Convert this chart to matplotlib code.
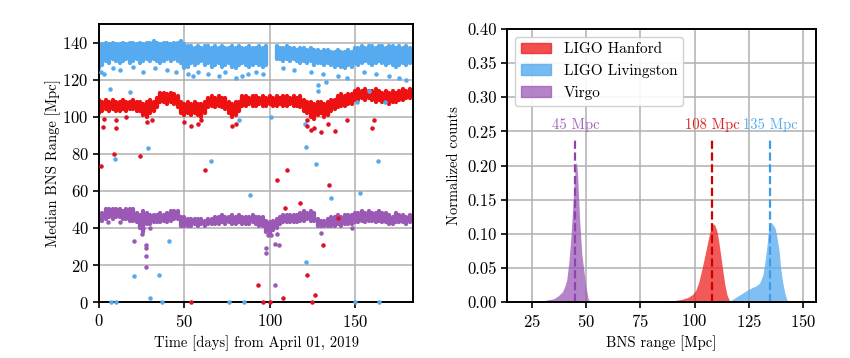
import numpy as np
import matplotlib
matplotlib.use("Agg")
import matplotlib.pyplot as plt
from matplotlib.patches import Patch

plt.rcParams['font.family'] = ['cmr10', 'DejaVu Serif']
plt.rcParams['axes.formatter.use_mathtext'] = True
plt.rcParams['axes.unicode_minus'] = False

# ---- left panel: band of median ranges, 2-day resolution ----
days = np.arange(0, 184, 2)
nan = np.nan

llo_top = [138, 139, 140, 139, 140, 139, 139, 140, 139, 140, 140, 139, 140, 139, 140, 140, 141, 140, 139, 140, 140, 139, 140, 140, 141,
           139, 138, 138, 137, 138, 137, 138, 138, 137, 138, 137, 138, 137, 137, 138, 137, 138, 137, 137, 138, 137, 137, 138, 137, 138,
           nan, nan,
           138, 137, 137, 138, 137, 137, 136, 137, 137, 136, 137, 136, 136, 135, 136, 136, 135, 135, 136, 135, 135, 136, 135,
           137, 137, 138, 137, 138, 138, 137, 138, 138, 137, 138, 138, 137, 138, 137, 138, 137]
llo_bot = [126, 128, 130, 129, 131, 130, 129, 130, 131, 129, 130, 131, 129, 130, 131, 130, 131, 130, 129, 130, 131, 130, 131, 130, 129,
           126, 127, 129, 128, 129, 130, 128, 129, 127, 128, 129, 127, 128, 129, 127, 126, 128, 129, 128, 127, 128, 129, 128, 127, 128,
           nan, nan,
           131, 131, 130, 131, 130, 131, 130, 129, 130, 129, 130, 128, 129, 129, 128, 129, 128, 127, 128, 127, 126, 128, 127,
           129, 128, 129, 130, 129, 128, 129, 130, 129, 128, 129, 128, 127, 128, 129, 128, 129]

lho_top = [109, 108, 109, 108, 109, 108, 108, 109, 108, 108, 109, 108, 108, 107, 108, 109, 108, 110,
           113, 113, 112, 113, 112, 111,
           108, 107, 108, 107, 108, 107, 107, 108,
           110, 111, 110, 111, 110, 110,
           108, 107, 108, 108,
           111, 111, 110, 111, 111, 110, 111, 110, 111, 110, 111, 110, 111, 111, 110, 111, 110, 111,
           109, 108, 108, 107, 108, 108, 107, 108, 109, 109,
           111, 112, 111, 112, 112,
           114, 115, 114, 115, 114, 114, 115, 114, 113, 114, 113, 114, 113, 114, 115, 114, 115]
lho_bot = [102, 103, 104, 103, 104, 103, 103, 104, 103, 104, 104, 103, 103, 101, 100, 102, 103, 105,
           108, 108, 107, 108, 107, 105,
           102, 101, 102, 101, 102, 101, 100, 102,
           105, 106, 105, 106, 105, 104,
           102, 100, 101, 103,
           106, 106, 107, 106, 106, 107, 106, 106, 107, 106, 106, 107, 106, 106, 107, 106, 106, 105,
           103, 102, 100, 99, 101, 102, 100, 101, 103, 104,
           105, 106, 106, 107, 107,
           109, 109, 110, 109, 110, 109, 108, 109, 108, 108, 107, 108, 108, 109, 109, 110, 110]

vir_top = [47, 48,
           50, 50, 50, 50, 50, 49, 50, 50, 50,
           48, 47, 49, 48,
           47, 47, 47, 48, 47, 48, 49, 49, 49,
           46, 46, 45, 45, 45, 45, 45, 44, 45, 45,
           46, 46, 47, 46, 46, 47, 46, 47, 46, 46, 46, 47, 46, 46, 46,
           44, 43, 44, 45,
           46, 47, 47, 47, 47, 47,
           48, 49, 48, 49, 48,
           45, 44, 44, 45,
           46, 46, 47, 46, 47, 47, 47,
           48, 48, 49, 48, 49, 48, 48, 49, 48, 48,
           47, 46, 48, 47, 47, 46, 47]
vir_bot = [44, 44,
           45, 46, 45, 46, 46, 45, 45, 44, 44,
           43, 40, 38, 42,
           42, 43, 43, 43, 44, 43, 44, 45, 45,
           41, 41, 41, 41, 42, 41, 42, 41, 42, 42,
           42, 42, 43, 42, 43, 42, 42, 43, 42, 42, 42, 43, 42, 41, 41,
           38, 37, 39, 40,
           42, 43, 43, 43, 43, 43,
           44, 44, 45, 44, 44,
           41, 41, 41, 41,
           41, 41, 42, 41, 42, 42, 42,
           43, 43, 44, 43, 44, 44, 43, 44, 43, 43,
           42, 42, 43, 43, 43, 42, 43]

# scattered points off the main band
llo_x = [1, 3, 8, 12, 20, 26, 33, 40, 45, 52, 55, 58, 64, 70, 74, 80, 84, 87, 92, 96, 108, 114, 124, 131, 140, 145, 155, 162, 170, 176, 180,
         6.3, 18, 28.7, 9.2, 65.8, 82, 101, 121, 128.5, 128.5, 133, 151, 158.2, 167.5, 120.7, 163.5, 127.3, 20.5, 35, 29.7, 41,
         88.3, 121.5, 135.7, 152.7, 7, 10, 37, 76, 85, 150, 164]
llo_y = [124, 123, 126, 125, 127, 124, 126, 125, 124, 123, 122, 124, 123, 122, 124, 121, 122, 123, 124, 123, 126, 125, 124, 123, 122, 121, 124, 123, 122, 121, 120,
         115, 113.5, 83, 77, 76, 98, 99.8, 83.4, 117, 113.7, 118.5, 108, 113.7, 108, 96.2, 76, 74.5, 14, 14.8, 2.2, 33,
         58, 21.4, 56, 59, 0, 0, 0, 0, 0, 0, 0]

lho_x = [3, 10, 16, 28, 31, 50, 54, 58, 60, 78, 80, 122, 124, 126, 130, 134,
         1.4, 2.3, 9, 24, 10, 62.3, 110, 104, 108.8, 117.6, 134.8, 131, 93, 122, 107.8, 126.4,
         140, 121.7, 145, 138, 159.7, 161, 54, 96, 100, 125]
lho_y = [99, 98, 100, 97, 98, 97, 95, 96, 98, 95, 96, 95, 93, 94, 92, 96,
         73.5, 94.5, 80, 79, 93.7, 71.4, 71.4, 66, 50.7, 53.4, 63.2, 30.8, 9.5, 14.5, 2.3, 4.1,
         45.5, 98, 98.4, 92.4, 94, 98, 0, 0, 0, 0]

vir_x = [20.5, 27.3, 27.3, 27.3, 27.3, 25, 98, 98, 103, 105.5, 130, 104.5, 103, 100, 101, 26, 30, 99, 5, 12, 148]
vir_y = [33, 31, 29, 24.8, 19, 37, 29, 26.5, 31.6, 31, 37.5, 37, 9.2, 39, 36, 40, 40, 36, 43, 43, 40]

# ---- right panel: normalized histograms ----
lho_hx = [80, 85, 90, 94, 97, 99, 100.5, 102, 103.5, 105, 106.5, 107.5, 108.5, 109.3, 110.2, 111, 112, 113, 114, 115, 116, 117]
lho_hy = [0.0005, 0.001, 0.002, 0.004, 0.007, 0.011, 0.017, 0.03, 0.05, 0.072, 0.095, 0.108, 0.115, 0.113, 0.105, 0.092, 0.07, 0.047, 0.025, 0.01, 0.003, 0]
llo_hx = [112, 115, 117, 119, 121, 123, 125, 127, 128.5, 130, 131.5, 132.5, 133.3, 134, 134.8, 135.6, 136.4, 137.2, 138, 139, 139.7, 140.6, 141.5, 142.5, 143.5]
llo_hy = [0.0005, 0.001, 0.003, 0.007, 0.011, 0.015, 0.019, 0.022, 0.024, 0.028, 0.04, 0.06, 0.08, 0.102, 0.117, 0.116, 0.112, 0.108, 0.095, 0.075, 0.05, 0.03, 0.015, 0.004, 0]
vir_hx = [20, 25, 30, 35, 37, 39, 40, 41, 42, 43, 44, 45, 45.5, 46, 47, 48, 49, 50, 51, 52]
vir_hy = [0.0005, 0.001, 0.002, 0.005, 0.009, 0.015, 0.022, 0.032, 0.058, 0.096, 0.15, 0.2, 0.205, 0.19, 0.12, 0.07, 0.045, 0.02, 0.004, 0]

medians = [108, 135, 45]
names = ['LIGO Hanford', 'LIGO Livingston', 'Virgo']

c_red = '#ee1111'
c_blue = '#55aaf0'
c_purp = '#9b59b6'

fig = plt.figure(figsize=(8.5, 3.58), dpi=100)
ax1 = fig.add_axes([0.1165, 0.156, 0.3695, 0.777])
ax2 = fig.add_axes([0.5965, 0.156, 0.3635, 0.763])

for ax in (ax1, ax2):
    ax.set_axisbelow(True)
    ax.grid(True, color='#b0b0b0', linewidth=1.1)
    for s in ax.spines.values():
        s.set_linewidth(1.4)
    ax.tick_params(labelsize=12, width=1.2, length=4)


def band(ax, top, bot, color):
    top = np.array(top, dtype=float)
    bot = np.array(bot, dtype=float)
    ok = ~np.isnan(top)
    ax.vlines(days[ok], bot[ok], top[ok], colors=color, linewidth=3.1, capstyle='round')


band(ax1, llo_top, llo_bot, c_blue)
band(ax1, lho_top, lho_bot, c_red)
band(ax1, vir_top, vir_bot, c_purp)
ax1.scatter(llo_x, llo_y, s=5, color=c_blue, clip_on=False, zorder=3)
ax1.scatter(lho_x, lho_y, s=5, color='#dd1122', clip_on=False, zorder=3)
ax1.scatter(vir_x, vir_y, s=5, color=c_purp, clip_on=False, zorder=3)

ax1.set_xlim(0, 184)
ax1.set_ylim(0, 150)
ax1.set_xticks([0, 50, 100, 150])
ax1.set_yticks(np.arange(0, 141, 20))
ax1.set_xlabel('Time [days] from April 01, 2019', fontsize=10.5)
ax1.set_ylabel('Median BNS Range [Mpc]', fontsize=10.5, labelpad=1)

fills = [(lho_hx, lho_hy, '#ee2222'), (llo_hx, llo_hy, '#55aaf0'), (vir_hx, vir_hy, '#9b59b6')]
for hx, hy, c in fills:
    ax2.fill_between(hx, 0, hy, color=c, alpha=0.75, linewidth=0)

line_cols = ['#cc0000', '#3d9be6', '#8e44ad']
text_cols = ['#dd2222', '#55aaf0', '#a066c0']
for m, lc, tc in zip(medians, line_cols, text_cols):
    ax2.vlines(m, 0, 0.24, colors=lc, linestyles='--', linewidth=1.6)
    ax2.text(m, 0.249, '%d Mpc' % m, color=tc, ha='center', va='bottom', fontsize=10.5)

ax2.set_xlim(13.5, 156)
ax2.set_ylim(0, 0.4)
ax2.set_xticks([25, 50, 75, 100, 125, 150])
ax2.set_yticks(np.arange(0, 0.41, 0.05))
ax2.yaxis.set_major_formatter(matplotlib.ticker.FormatStrFormatter('%.2f'))
ax2.set_xlabel('BNS range [Mpc]', fontsize=10.5)
ax2.set_ylabel('Normalized counts', fontsize=10.5)

handles = [Patch(color='#ee2222', alpha=0.8), Patch(color='#55aaf0', alpha=0.8), Patch(color='#9b59b6', alpha=0.75)]
ax2.legend(handles, names, loc='upper left', fontsize=11, framealpha=0.9, edgecolor='#cccccc')

fig.savefig('out.png', dpi=100)
